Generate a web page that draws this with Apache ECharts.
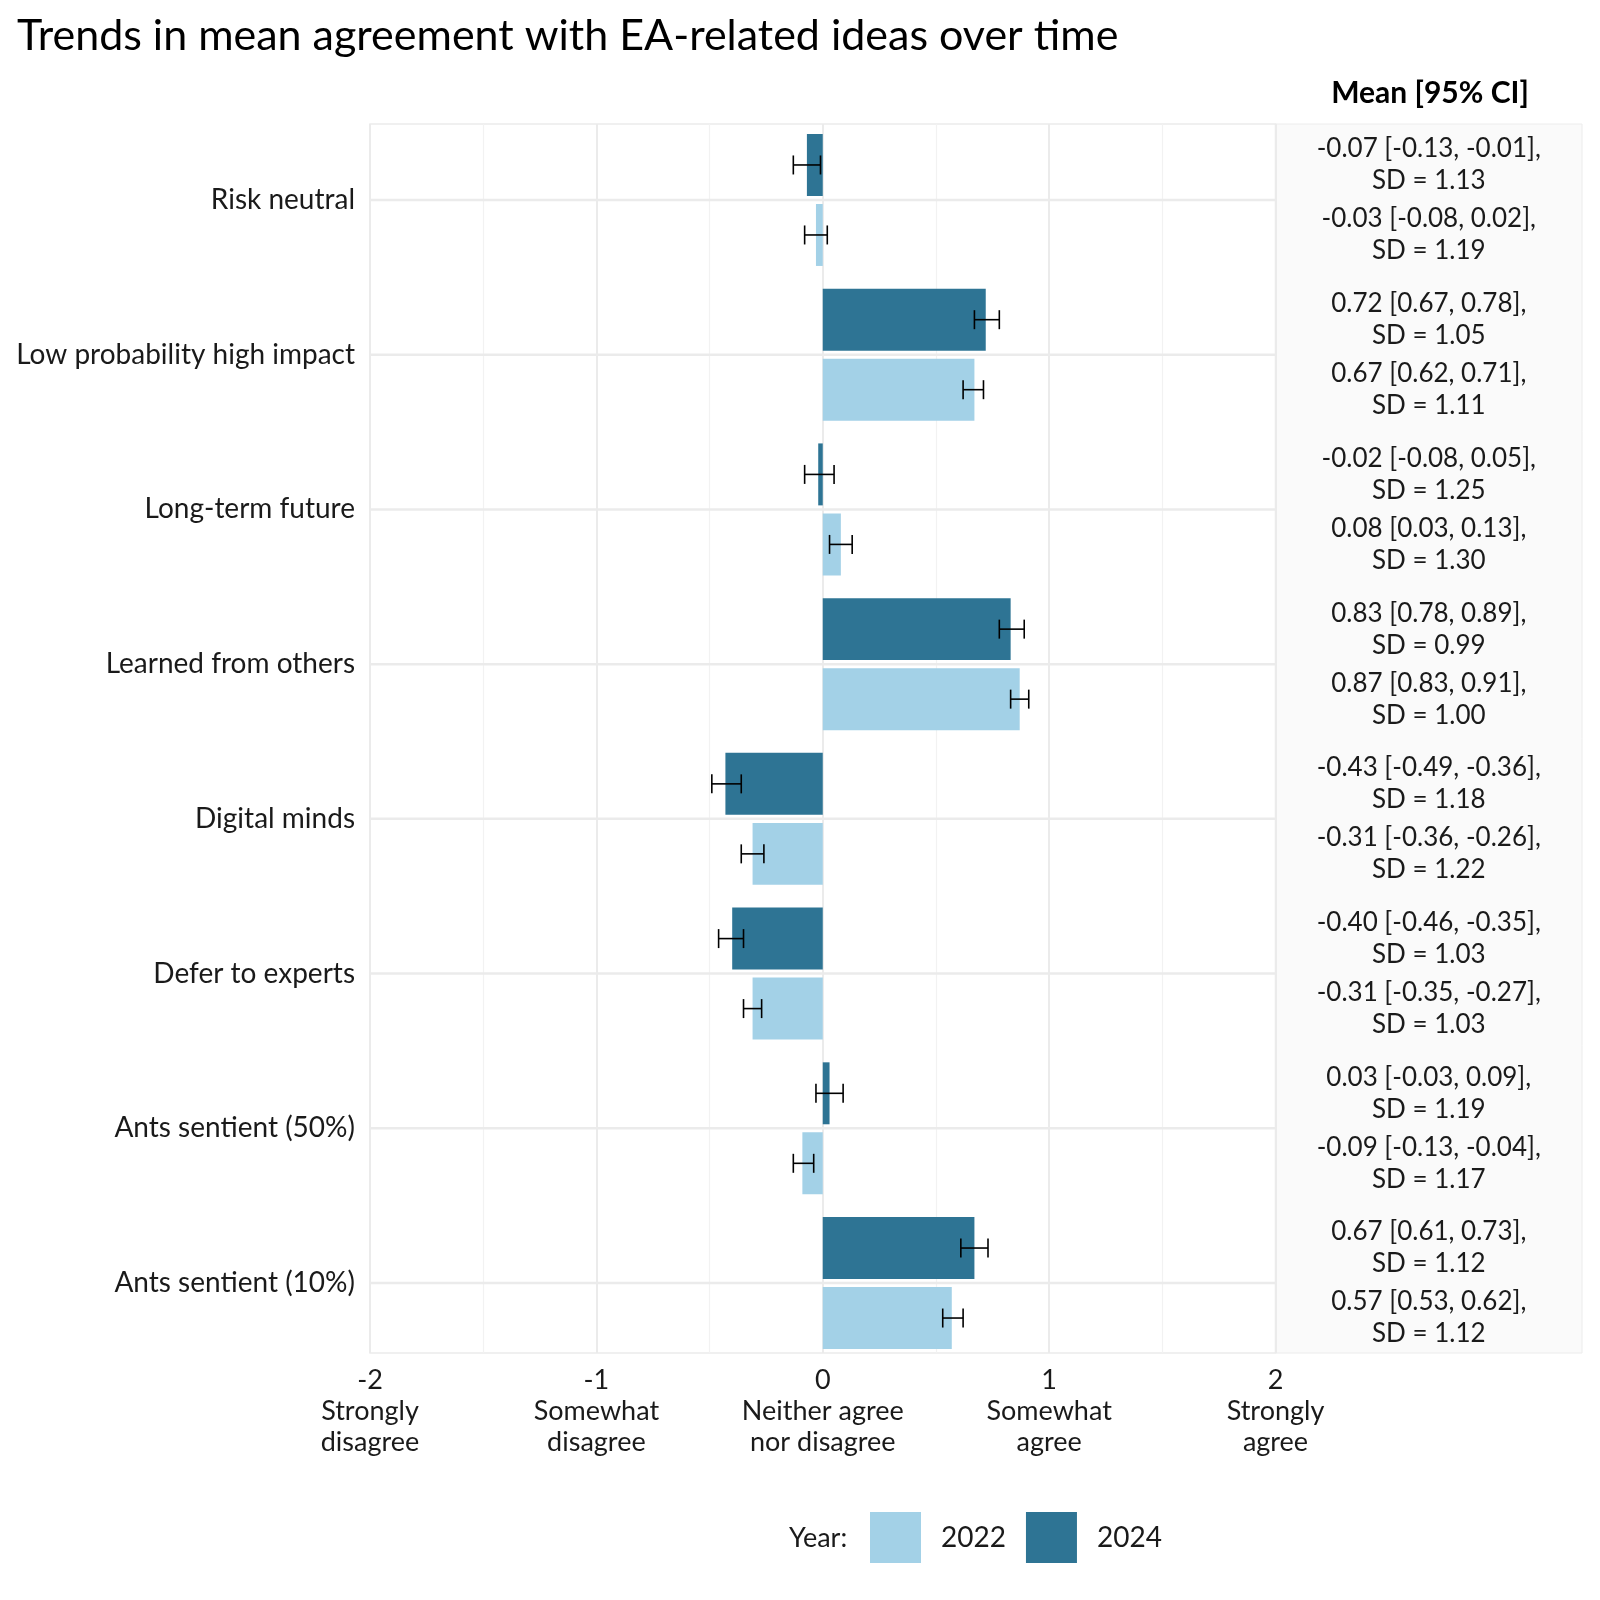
<!DOCTYPE html>
<html>
<head>
<meta charset="utf-8">
<script src="https://cdn.jsdelivr.net/npm/echarts@6/dist/echarts.min.js"></script>
<style>html,body{margin:0;padding:0;background:#fff}#c{width:1600px;height:1600px}</style>
</head>
<body>
<div id="c"></div>
<script>
const categories = ['Risk neutral','Low probability high impact','Long-term future','Learned from others','Digital minds','Defer to experts','Ants sentient (50%)','Ants sentient (10%)'];
const mean2024 = [-0.07, 0.72, -0.02, 0.83, -0.43, -0.40, 0.03, 0.67];
const low2024  = [-0.13, 0.67, -0.08, 0.78, -0.49, -0.46, -0.03, 0.61];
const high2024 = [-0.01, 0.78, 0.05, 0.89, -0.36, -0.35, 0.09, 0.73];
const sd2024   = ['1.13','1.05','1.25','0.99','1.18','1.03','1.19','1.12'];
const mean2022 = [-0.03, 0.67, 0.08, 0.87, -0.31, -0.31, -0.09, 0.57];
const low2022  = [-0.08, 0.62, 0.03, 0.83, -0.36, -0.35, -0.13, 0.53];
const high2022 = [0.02, 0.71, 0.13, 0.91, -0.26, -0.27, -0.04, 0.62];
const sd2022   = ['1.19','1.11','1.30','1.00','1.22','1.03','1.17','1.12'];
const xTickValues = [-2, -1, 0, 1, 2];
const xTickNames = ['Strongly\ndisagree','Somewhat\ndisagree','Neither agree\nnor disagree','Somewhat\nagree','Strongly\nagree'];
const years = ['2022','2024'];

const FONT = 'Lato';
const C2024 = '#2E7494';
const C2022 = '#A3D1E7';
const OFF = 0.2262;

function f2(v){ return v.toFixed(2); }
function ciText(m,l,h,sd){ return f2(m) + ' [' + f2(l) + ', ' + f2(h) + '],\nSD = ' + sd; }

const err2024 = categories.map((c,i)=>[i, low2024[i], high2024[i]]);
const err2022 = categories.map((c,i)=>[i, low2022[i], high2022[i]]);
const txt2024 = categories.map((c,i)=>[0.5, i, ciText(mean2024[i], low2024[i], high2024[i], sd2024[i])]);
const txt2022 = categories.map((c,i)=>[0.5, i, ciText(mean2022[i], low2022[i], high2022[i], sd2022[i])]);

function errRender(sign){
  return function(params, api){
    const c = api.value(0);
    const p1 = api.coord([api.value(1), c]);
    const p2 = api.coord([api.value(2), c]);
    const band = api.size([0,1])[1];
    const y = p1[1] + sign*OFF*band;
    const cap = 9.5;
    const st = {stroke:'#000', lineWidth:1.6};
    return {type:'group', children:[
      {type:'line', shape:{x1:p1[0], y1:y, x2:p2[0], y2:y}, style:st},
      {type:'line', shape:{x1:p1[0], y1:y-cap, x2:p1[0], y2:y+cap}, style:st},
      {type:'line', shape:{x1:p2[0], y1:y-cap, x2:p2[0], y2:y+cap}, style:st}
    ]};
  };
}
function txtRender(sign){
  return function(params, api){
    const p = api.coord([api.value(0), api.value(1)]);
    const band = api.size([0,1])[1];
    return {type:'text', style:{
      text: api.value(2), x:p[0], y:p[1] + sign*OFF*band,
      align:'center', verticalAlign:'middle', textAlign:'center', textVerticalAlign:'middle',
      fontSize:26, lineHeight:32, fontFamily:FONT, fill:'#1a1a1a'
    }};
  };
}

// Panel frame (grid 0, grid 1) and category band geometry (grid 2, grid 3)
const PANEL = {top:124, bottom:247};
const BAND = {top:122.6, bottom:239.6};

const chart = echarts.init(document.getElementById('c'));
chart.setOption({
  backgroundColor:'#fff',
  animation:false,
  title:[
    {text:'Trends in mean agreement with EA-related ideas over time', left:17, top:15, padding:0,
     textStyle:{fontFamily:FONT, fontSize:43, fontWeight:'normal', color:'#000'}}
  ],
  graphic:[
    {type:'text', x:1430, y:93, style:{text:'Mean [95% CI]', textAlign:'center', textVerticalAlign:'middle',
      fontFamily:FONT, fontSize:30, fontWeight:'bold', fill:'#000'}},
    {type:'text', x:789, y:1538, style:{text:'Year:', textAlign:'left', textVerticalAlign:'middle',
      fontFamily:FONT, fontSize:27, fill:'#1a1a1a'}}
  ],
  legend:{
    data:years, left:870, top:1512, padding:0, itemWidth:51, itemHeight:51, itemGap:20, icon:'rect',
    textStyle:{fontFamily:FONT, fontSize:28, color:'#1a1a1a', padding:[0,0,0,15]}
  },
  grid:[
    {left:370, right:324.5, top:PANEL.top, bottom:PANEL.bottom, show:true, borderColor:'#ebebeb', borderWidth:1.5, backgroundColor:'#fff'},
    {left:1275.5, right:18, top:PANEL.top, bottom:PANEL.bottom, show:true, borderColor:'#ececec', borderWidth:1, backgroundColor:'#fafafa'},
    {left:370, right:324.5, top:BAND.top, bottom:BAND.bottom, show:false},
    {left:1275.5, right:18, top:BAND.top, bottom:BAND.bottom, show:false}
  ],
  xAxis:[
    {type:'value', gridIndex:0, min:-2, max:2, interval:1,
     axisLine:{show:false}, axisTick:{show:false},
     splitLine:{show:true, lineStyle:{color:'#ebebeb', width:2}},
     minorTick:{show:false, splitNumber:2},
     minorSplitLine:{show:true, lineStyle:{color:'#f2f2f2', width:1.2}},
     axisLabel:{fontFamily:FONT, fontSize:27, color:'#1a1a1a', lineHeight:31, margin:12,
       formatter:function(v){ const i = xTickValues.indexOf(v); return (i<0)?'':(String(v) + '\n' + xTickNames[i]); }}
    },
    {type:'value', gridIndex:1, min:0, max:1, show:false},
    {type:'value', gridIndex:2, min:-2, max:2, interval:1, show:false},
    {type:'value', gridIndex:3, min:0, max:1, show:false}
  ],
  yAxis:[
    {type:'value', gridIndex:0, min:0, max:1, show:false},
    {type:'value', gridIndex:1, min:0, max:1, show:false},
    {type:'category', gridIndex:2, data:categories, inverse:true,
     axisLine:{show:false}, axisTick:{show:false}, splitLine:{show:false},
     axisLabel:{fontFamily:FONT, fontSize:28, color:'#1a1a1a', margin:15}},
    {type:'category', gridIndex:3, data:categories, inverse:true, show:false}
  ],
  series:[
    {type:'custom', name:'grid', xAxisIndex:2, yAxisIndex:2, z:1, silent:true,
     data:categories.map((c,i)=>[i]), encode:{y:0},
     renderItem:function(params, api){
       const a = api.coord([-2, api.value(0)]); const b = api.coord([2, api.value(0)]);
       return {type:'line', shape:{x1:a[0], y1:a[1], x2:b[0], y2:b[1]}, style:{stroke:'#ebebeb', lineWidth:2.5}};
     }},
    {type:'bar', name:'2024', data:mean2024, xAxisIndex:2, yAxisIndex:2, z:2,
     itemStyle:{color:C2024}, barCategoryGap:'14.7%', barGap:'13%'},
    {type:'bar', name:'2022', data:mean2022, xAxisIndex:2, yAxisIndex:2, z:2,
     itemStyle:{color:C2022}, barCategoryGap:'14.7%', barGap:'13%'},
    {type:'custom', name:'err2024', xAxisIndex:2, yAxisIndex:2, z:5, data:err2024,
     encode:{x:[1,2], y:0}, renderItem:errRender(-1)},
    {type:'custom', name:'err2022', xAxisIndex:2, yAxisIndex:2, z:5, data:err2022,
     encode:{x:[1,2], y:0}, renderItem:errRender(1)},
    {type:'custom', name:'txt2024', xAxisIndex:3, yAxisIndex:3, z:5, data:txt2024,
     encode:{x:0, y:1}, renderItem:txtRender(-1)},
    {type:'custom', name:'txt2022', xAxisIndex:3, yAxisIndex:3, z:5, data:txt2022,
     encode:{x:0, y:1}, renderItem:txtRender(1)}
  ]
});
</script>
</body>
</html>
